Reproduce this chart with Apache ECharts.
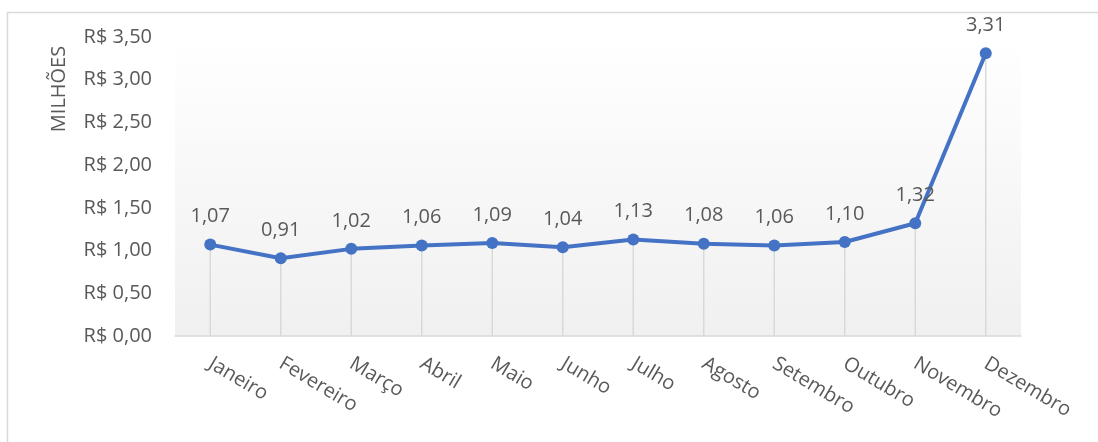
<!DOCTYPE html>
<html>
<head>
<meta charset="utf-8">
<script src="https://cdn.jsdelivr.net/npm/echarts@6/dist/echarts.min.js"></script>
<style>
  html, body { margin: 0; padding: 0; background: #fff; }
  #chart { width: 1098px; height: 442px; }
</style>
</head>
<body>
<div id="chart"></div>
<script>
// meses
const months = ['Janeiro', 'Fevereiro', 'Março', 'Abril', 'Maio', 'Junho',
  'Julho', 'Agosto', 'Setembro', 'Outubro', 'Novembro', 'Dezembro']
// faturamento em milhões de R$
const revenue = [1.07, 0.91, 1.02, 1.06, 1.09, 1.04, 1.13, 1.08, 1.06, 1.10, 1.32, 3.31]
const yTicks = [0, 0.5, 1, 1.5, 2, 2.5, 3, 3.5]

const textColor = '#595959'
const font = '"Open Sans", sans-serif'
const fmt = v => v.toFixed(2).replace('.', ',')

const chart = echarts.init(document.getElementById('chart'), null, {renderer: 'canvas'})

const option = {
  animation: false,
  backgroundColor: '#fff',
  textStyle: {fontFamily: font},
  grid: {
    left: 175,
    right: 77,
    top: 37,
    bottom: 106,
    show: true,
    borderWidth: 0,
    backgroundColor: new echarts.graphic.LinearGradient(0, 0, 0, 1, [
      {offset: 0, color: '#ffffff'},
      {offset: 1, color: '#f0f0f0'}
    ])
  },
  graphic: [
    {
      type: 'rect',
      shape: {x: 7.5, y: 12.5, width: 1200, height: 600},
      style: {fill: 'none', stroke: '#d9d9d9', lineWidth: 1.5},
      silent: true
    },
    {
      type: 'text',
      x: 59,
      y: 89,
      rotation: Math.PI / 2,
      style: {
        text: 'MILHÕES',
        fill: textColor,
        font: '20px ' + font,
        align: 'center',
        verticalAlign: 'middle'
      }
    }
  ],
  xAxis: {
    type: 'category',
    data: months,
    boundaryGap: true,
    axisLine: {lineStyle: {color: '#d9d9d9', width: 1.5}},
    axisTick: {show: false},
    axisLabel: {
      interval: 0,
      rotate: -31,
      margin: 26,
      color: textColor,
      fontSize: 20,
      fontFamily: font
    },
    splitLine: {show: false}
  },
  yAxis: {
    type: 'value',
    min: yTicks[0],
    max: yTicks[yTicks.length - 1],
    interval: yTicks[1] - yTicks[0],
    axisLine: {show: false},
    axisTick: {show: false},
    splitLine: {show: false},
    axisLabel: {
      margin: 23,
      color: textColor,
      fontSize: 20,
      fontFamily: font,
      formatter: v => 'R$ ' + fmt(v)
    }
  },
  series: [
    {
      // linhas de chamada (drop lines)
      type: 'bar',
      data: revenue,
      barWidth: 1.5,
      silent: true,
      itemStyle: {color: '#d9d9d9'},
      z: 1
    },
    {
      type: 'line',
      data: revenue,
      symbol: 'circle',
      symbolSize: 12,
      lineStyle: {color: '#4472C4', width: 4},
      itemStyle: {color: '#4472C4'},
      label: {
        show: true,
        position: 'top',
        distance: 12,
        color: textColor,
        fontSize: 20,
        fontFamily: font,
        formatter: p => fmt(p.value)
      },
      z: 3
    }
  ]
}

chart.setOption(option)
window.addEventListener('resize', () => chart.resize())
</script>
</body>
</html>
